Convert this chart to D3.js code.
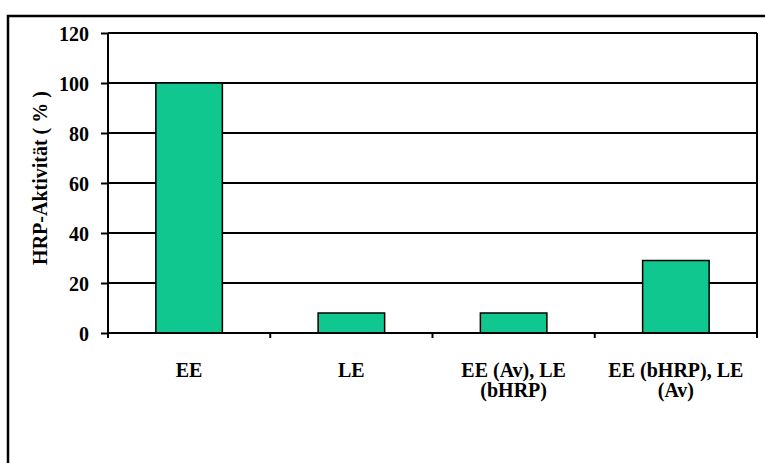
<!DOCTYPE html>
<html>
<head>
<meta charset="utf-8">
<script src="https://cdn.jsdelivr.net/npm/d3@7"></script>
<style>
  html, body { margin: 0; padding: 0; background: #fff; }
  svg { display: block; }
</style>
</head>
<body>
<svg id="chart" width="765" height="463"></svg>
<script>
// HRP activity per labelling condition
const categories = [
  ["EE"],
  ["LE"],
  ["EE (Av), LE", "(bHRP)"],
  ["EE (bHRP), LE", "(Av)"]
];
const values = [100, 8, 8, 29];
const yTicks = [0, 20, 40, 60, 80, 100, 120];
const yTitle = "HRP-Aktivität ( % )";

const FONT = "'Liberation Serif', Tinos, 'Times New Roman', 'DejaVu Serif', serif";

const svg = d3.select("#chart");
const W = 765, H = 463;
const margin = { left: 108, top: 33, right: 8, bottom: 130 };
const plotW = W - margin.left - margin.right;
const plotH = H - margin.top - margin.bottom;

// outer frame (left and top edges visible)
svg.append("path")
  .attr("d", `M8,${H} L8,16 L${W},16`)
  .attr("fill", "none").attr("stroke", "#000").attr("stroke-width", 2.5);

const g = svg.append("g").attr("transform", `translate(${margin.left},${margin.top})`);

const x = d3.scaleBand().domain(d3.range(categories.length)).range([0, plotW]).paddingInner(0).paddingOuter(0);
const y = d3.scaleLinear().domain([0, 120]).range([plotH, 0]);

// horizontal gridlines
g.selectAll("line.grid").data(yTicks.filter(d => d > 0)).join("line")
  .attr("class", "grid")
  .attr("x1", 0).attr("x2", plotW)
  .attr("y1", d => y(d)).attr("y2", d => y(d))
  .attr("stroke", "#000").attr("stroke-width", 2);

// right edge of plot area
g.append("line").attr("x1", plotW).attr("x2", plotW).attr("y1", 0).attr("y2", plotH + 4)
  .attr("stroke", "#000").attr("stroke-width", 2);

// bars
const bw = x.bandwidth() * 0.41;
g.selectAll("rect.bar").data(values).join("rect")
  .attr("class", "bar")
  .attr("x", (d, i) => x(i) + (x.bandwidth() - bw) / 2)
  .attr("y", d => y(d))
  .attr("width", bw)
  .attr("height", d => y(0) - y(d))
  .attr("fill", "#0fc78f")
  .attr("stroke", "#000").attr("stroke-width", 1.5);

// y axis
const yAxis = g.append("g")
  .attr("font-family", FONT)
  .call(d3.axisLeft(y).tickValues(yTicks).tickSize(7).tickPadding(12).tickFormat(d3.format("d")));
yAxis.attr("font-family", FONT).attr("font-size", 20).attr("font-weight", "bold");
yAxis.select(".domain").attr("stroke", "#000").attr("stroke-width", 2).attr("d", `M0,0V${plotH}`);
yAxis.selectAll(".tick line").attr("stroke", "#000").attr("stroke-width", 2);
yAxis.selectAll(".tick text")
  .attr("font-family", FONT)
  .attr("font-size", 20)
  .attr("font-weight", "bold")
  .attr("fill", "#000")
  .attr("dy", "0.36em");

// x axis baseline and category boundary ticks
g.append("line").attr("x1", 0).attr("x2", plotW).attr("y1", plotH).attr("y2", plotH)
  .attr("stroke", "#000").attr("stroke-width", 2);
g.selectAll("line.xtick").data(d3.range(categories.length + 1)).join("line")
  .attr("class", "xtick")
  .attr("x1", i => i * x.step()).attr("x2", i => i * x.step())
  .attr("y1", plotH).attr("y2", plotH + 5)
  .attr("stroke", "#000").attr("stroke-width", 2);

// category labels
const lab = g.selectAll("text.xlab").data(categories).join("text")
  .attr("class", "xlab")
  .attr("text-anchor", "middle")
  .attr("font-family", FONT)
  .attr("font-weight", "bold")
  .attr("font-size", 20)
  .attr("fill", "#000")
  .attr("transform", (d, i) => `translate(${x(i) + x.bandwidth() / 2},${plotH + 44})`);
lab.selectAll("tspan").data(d => d).join("tspan")
  .attr("x", 0)
  .attr("dy", (d, j) => j === 0 ? 0 : 20)
  .text(d => d);

// y axis title
svg.append("text")
  .attr("text-anchor", "middle")
  .attr("font-family", FONT)
  .attr("font-weight", "bold")
  .attr("font-size", 20)
  .attr("fill", "#000")
  .attr("transform", `translate(47,178) rotate(-90)`)
  .text(yTitle);
</script>
</body>
</html>
